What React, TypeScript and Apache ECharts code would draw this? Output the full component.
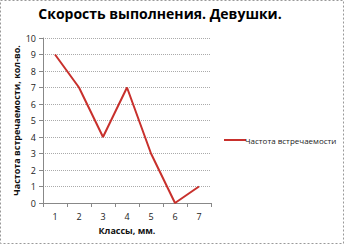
import React, { useEffect, useRef } from "react";
import * as echarts from "echarts";

const categories = ["1", "2", "3", "4", "5", "6", "7"];
const values = [9, 7, 4, 7, 3, 0, 1];
const seriesName = "Частота встречаемости";
const titleText = "Скорость выполнения. Девушки.";
const yName = "Частота встречаемости, кол-во.";
const xName = "Классы, мм.";

export default function App() {
  const ref = useRef<HTMLDivElement>(null);
  useEffect(() => {
    const chart = echarts.init(ref.current!, undefined, { renderer: "svg" });
    const font = "'Open Sans', 'Noto Sans', sans-serif";
    chart.setOption({
      animation: false,
      backgroundColor: "#fff",
      textStyle: { fontFamily: font },
      title: {
        text: titleText,
        left: 155,
        textAlign: "center",
        top: 1,
        textStyle: { fontSize: 14, fontWeight: "bold", color: "#000", fontFamily: font },
      },
      legend: {
        data: [{ name: seriesName, icon: "rect" }],
        left: 219,
        top: 131,
        itemWidth: 22,
        itemHeight: 2,
        itemGap: 2,
        textStyle: { fontSize: 8, color: "#222", fontFamily: font, padding: [0, 0, 0, -6] },
      },
      grid: { left: 43, right: 133, top: 38, bottom: 42, containLabel: false },
      xAxis: {
        type: "category",
        data: categories,
        boundaryGap: true,
        name: xName,
        nameLocation: "middle",
        nameGap: 22,
        nameTextStyle: { fontSize: 9, fontWeight: "bold", color: "#111" },
        axisLine: { lineStyle: { color: "#888", width: 1 } },
        axisTick: { show: true, length: 4, lineStyle: { color: "#888" } },
        axisLabel: { fontSize: 9, color: "#222", margin: 9 },
        splitLine: { show: false },
      },
      yAxis: {
        type: "value",
        min: 0,
        max: 10,
        interval: 1,
        name: yName,
        nameLocation: "middle",
        nameGap: 22,
        nameRotate: 90,
        nameTextStyle: { fontSize: 9, fontWeight: "bold", color: "#111" },
        axisLine: { show: true, lineStyle: { color: "#888", width: 1 } },
        axisTick: { show: true, length: 4, lineStyle: { color: "#888" } },
        axisLabel: { fontSize: 9, color: "#222", margin: 7 },
        splitLine: { show: true, lineStyle: { color: "#aaa", type: "dotted", width: 1 } },
      },
      graphic: [
        {
          type: "rect",
          shape: { x: 0.5, y: 0.5, width: 343, height: 243 },
          style: { fill: "none", stroke: "#999", lineWidth: 1, lineDash: [2, 2] },
          silent: true,
        },
      ],
      series: [
        {
          name: seriesName,
          type: "line",
          data: values,
          symbol: "none",
          lineStyle: { color: "#c8302c", width: 2 },
          itemStyle: { color: "#c8302c" },
        },
      ],
    });
    return () => chart.dispose();
  }, []);
  return <div ref={ref} style={{ width: 344, height: 245, position: "absolute", left: 0, top: 0 }} />;
}
